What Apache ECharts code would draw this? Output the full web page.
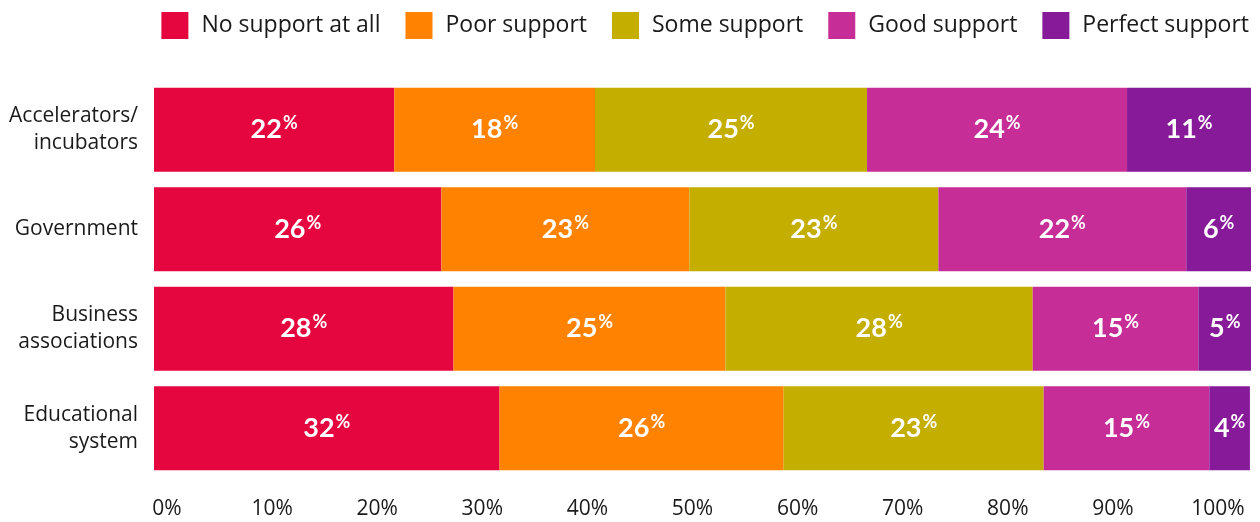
<!DOCTYPE html>
<html lang="en">
	<head>
		<meta charset="utf-8">
		<title>Support by institution</title>
		<script type="text/javascript" src="https://cdn.jsdelivr.net/npm/echarts@6/dist/echarts.min.js"></script>
		<style>
			html, body { margin: 0; padding: 0; background: #fff; }
			#container { width: 1260px; height: 522px; }
		</style>
	</head>
	<body>
		<div id="container"></div>
		<script type="text/javascript">
            // categories, top to bottom
            var categories = ['Accelerators/\nincubators', 'Government', 'Business\nassociations', 'Educational\nsystem'];
            var seriesNames = ['No support at all', 'Poor support', 'Some support', 'Good support', 'Perfect support'];
            var colors = ['#E6063F', '#FF8300', '#C4AE00', '#C72D97', '#861A98'];

            // bar lengths (share of each row)
            var noSupport      = [21.9, 26.2, 27.3, 31.5];
            var poorSupport    = [18.3, 22.6, 24.8, 25.9];
            var someSupport    = [24.8, 22.7, 28.0, 23.7];
            var goodSupport    = [23.7, 22.6, 15.1, 15.1];
            var perfectSupport = [11.3,  5.9,  4.8,  3.7];

            // printed labels
            var noSupportLbl      = [22, 26, 28, 32];
            var poorSupportLbl    = [18, 23, 25, 26];
            var someSupportLbl    = [25, 23, 28, 23];
            var goodSupportLbl    = [24, 22, 15, 15];
            var perfectSupportLbl = [11, 6, 5, 4];

            var tickLabels = [0, 10, 20, 30, 40, 50, 60, 70, 80, 90, 100];

            var values = [noSupport, poorSupport, someSupport, goodSupport, perfectSupport];
            var labels = [noSupportLbl, poorSupportLbl, someSupportLbl, goodSupportLbl, perfectSupportLbl];
            var font = 'Open Sans';
            var boldFont = 'Lato';

            var series = [];
            for (var s = 0; s < seriesNames.length; s++) {
                (function(s){
                    series.push({
                        name: seriesNames[s],
                        type: 'bar',
                        stack: 'all',
                        barWidth: 84,
                        xAxisIndex: 0,
                        yAxisIndex: 0,
                        itemStyle: { color: colors[s] },
                        label: {
                            show: true,
                            position: 'inside',
                            formatter: function(p){
                                return '{n|' + labels[s][p.dataIndex] + '}{p|%}';
                            },
                            rich: {
                                n: { fontFamily: boldFont, fontWeight: 'bold', fontSize: 27, color: '#fff' },
                                p: { fontFamily: boldFont, fontWeight: 'bold', fontSize: 18, color: '#fff', padding: [0, 0, 13, 1] }
                            }
                        },
                        data: values[s]
                    });
                })(s);
            }

            var dom = document.getElementById("container");
            var myChart = echarts.init(dom);
            var option = {
                animation: false,
                color: colors,
                legend: {
                    right: 6,
                    top: 7,
                    itemWidth: 27,
                    itemHeight: 27,
                    itemGap: 25,
                    icon: 'rect',
                    textStyle: { fontFamily: font, fontSize: 23, color: '#1a1a1a', padding: [0, 0, 0, 8] },
                    data: seriesNames
                },
                grid: [
                    { left: 154, right: 9, top: 80, height: 398 },
                    // label strip: first label sits at the left edge, last at the right edge
                    { left: 167, right: 42, top: 80, height: 398 }
                ],
                xAxis: [
                    {
                        gridIndex: 0,
                        type: 'value',
                        min: 0,
                        max: 100,
                        show: false
                    },
                    {
                        gridIndex: 1,
                        type: 'value',
                        min: tickLabels[0],
                        max: tickLabels[tickLabels.length - 1],
                        interval: 10,
                        axisLine: { show: false },
                        axisTick: { show: false },
                        splitLine: { show: false },
                        axisLabel: {
                            margin: 21,
                            fontFamily: font,
                            fontSize: 21,
                            color: '#1a1a1a',
                            formatter: '{value}%'
                        }
                    }
                ],
                yAxis: [
                    {
                        gridIndex: 0,
                        type: 'category',
                        inverse: true,
                        data: categories,
                        axisLine: { show: false },
                        axisTick: { show: false },
                        axisLabel: {
                            margin: 16,
                            fontFamily: font,
                            fontSize: 21,
                            lineHeight: 27,
                            color: '#1a1a1a',
                            align: 'right'
                        }
                    },
                    {
                        gridIndex: 1,
                        type: 'category',
                        data: categories,
                        show: false
                    }
                ],
                series: series
            };
            myChart.setOption(option, true);
		</script>
	</body>
</html>
